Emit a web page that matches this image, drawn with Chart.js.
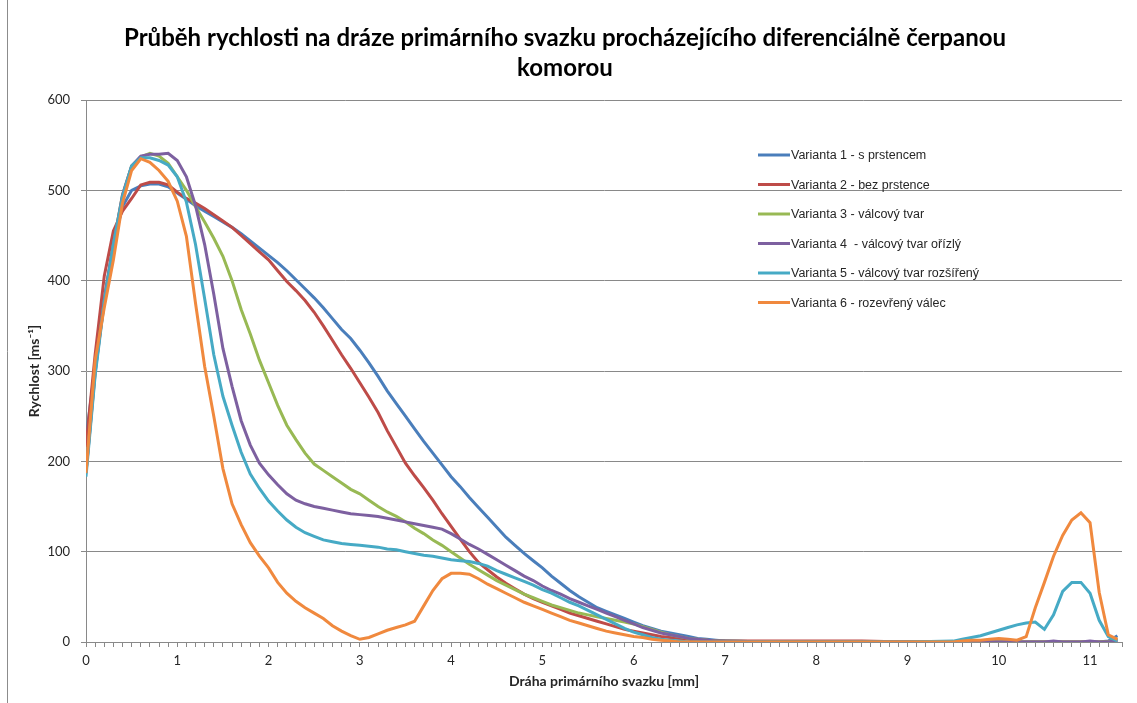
<!DOCTYPE html>
<html>
<head>
<meta charset="utf-8">
<script src="https://cdn.jsdelivr.net/npm/chart.js@4.4.1/dist/chart.umd.min.js"></script>
<style>
  html, body { margin: 0; padding: 0; background: #fff; }
  #wrap { position: relative; width: 1137px; height: 703px; }
</style>
</head>
<body>
<div id="wrap"><canvas id="chart" width="1137" height="703"></canvas></div>
<script>
// dráha [mm]
const distance = [
  0, 0.1, 0.2, 0.3, 0.4, 0.5, 0.6, 0.7, 0.8, 0.9,
  1, 1.1, 1.2, 1.3, 1.4, 1.5, 1.6, 1.7, 1.8, 1.9,
  2, 2.1, 2.2, 2.3, 2.4, 2.5, 2.6, 2.7, 2.8, 2.9,
  3, 3.1, 3.2, 3.3, 3.4, 3.5, 3.6, 3.7, 3.8, 3.9,
  4, 4.1, 4.2, 4.3, 4.4, 4.5, 4.6, 4.7, 4.8, 4.9,
  5, 5.1, 5.2, 5.3, 5.4, 5.5, 5.6, 5.7, 5.8, 5.9,
  6, 6.1, 6.2, 6.3, 6.4, 6.5, 6.6, 6.7, 6.8, 6.9,
  7,
  7.5, 8, 8.5, 9,
  9.5, 9.6, 9.7, 9.8, 9.9, 10, 10.1, 10.2, 10.3, 10.4,
  10.5, 10.6, 10.7, 10.8, 10.9, 11, 11.1, 11.2, 11.3
];

// rychlost [m/s]
const variant1 = [
  225, 305, 380, 440, 482, 500, 505, 507, 507, 504,
  497, 490, 483, 477, 471, 465, 459, 452, 444, 436,
  428, 420, 411, 401, 391, 381, 370, 358, 346, 336,
  323, 309, 294, 278, 264, 250, 236, 222, 209, 196,
  183, 172, 160, 149, 138, 127, 116, 107, 98, 90,
  82, 73, 65, 57, 50, 44, 38, 34, 30, 26,
  22, 18, 15, 12, 10, 8, 6, 4, 3, 2,
  1,
  0, 0, 0, 0,
  0, 0, 0, 0, 0, 0, 0, 0, 0, 0,
  0, 0, 0, 0, 0, 0, 0, 1, 7
];
const variant2 = [
  216, 318, 405, 455, 477, 491, 506, 509, 509, 506,
  498, 491, 486, 480, 473, 466, 459, 450, 441, 432,
  423, 411, 399, 389, 378, 365, 350, 334, 318, 303,
  287, 271, 254, 234, 216, 198, 184, 171, 157, 142,
  128, 114, 100, 88, 80, 72, 65, 59, 53, 48,
  44, 40, 36, 32, 29, 26, 23, 20, 17, 14,
  12, 10, 8, 6, 5, 4, 3, 2, 2, 1,
  1,
  1, 1, 1, 0,
  0, 0, 0, 0, 0, 0, 0, 0, 0, 0,
  0, 0, 0, 0, 0, 0, 0, 0, 0
];
const variant3 = [
  188, 300, 378, 440, 495, 527, 537, 541, 538, 530,
  515, 500, 482, 465, 447, 427, 400, 368, 341, 312,
  287, 262, 240, 224, 209, 197, 190, 183, 176, 169,
  164, 157, 150, 144, 139, 133, 126, 120, 113, 107,
  100, 93, 86, 80, 74, 68, 63, 58, 53, 49,
  45, 41, 38, 35, 32, 30, 28, 26, 24, 22,
  20, 17, 14, 11, 8, 6, 4, 3, 2, 1,
  1,
  0, 0, 0, 0,
  0, 0, 0, 0, 0, 0, 0, 0, 0, 0,
  0, 0, 0, 0, 0, 0, 0, 0, 4
];
const variant4 = [
  187, 298, 378, 440, 495, 527, 538, 540, 540, 541,
  533, 515, 483, 440, 385, 325, 283, 245, 218, 198,
  185, 174, 164, 157, 153, 150, 148, 146, 144, 142,
  141, 140, 139, 137, 135, 133, 131, 129, 127, 125,
  120, 114, 108, 103, 97, 91, 85, 79, 73, 68,
  62, 57, 53, 48, 44, 40, 36, 32, 28, 24,
  20, 16, 13, 10, 8, 6, 4, 3, 2, 1,
  1,
  0, 0, 0, 0,
  0, 0, 0, 0, 0, 0, 0, 0, 0, 0,
  0, 1, 0, 0, 0, 1, 0, 0, 2
];
const variant5 = [
  183, 295, 376, 440, 493, 527, 536, 536, 533, 528,
  515, 487, 440, 380, 318, 272, 240, 210, 186, 170,
  156, 145, 135, 127, 121, 117, 113, 111, 109, 108,
  107, 106, 105, 103, 102, 100, 98, 96, 95, 93,
  91, 90, 89, 87, 84, 79, 75, 71, 67, 63,
  58, 54, 49, 44, 40, 35, 30, 25, 20, 15,
  11, 8, 5, 3, 2, 1, 0, 0, 0, 0,
  0,
  0, 0, 0, 0,
  1, 3, 5, 7, 10, 13, 16, 19, 21, 22,
  14, 30, 56, 66, 66, 54, 24, 6, 1
];
const variant6 = [
  187, 312, 370, 423, 486, 522, 535, 531, 522, 510,
  488, 449, 375, 305, 250, 192, 153, 130, 110, 95,
  82, 66, 54, 45, 38, 32, 26, 18, 12, 7,
  3, 5, 9, 13, 16, 19, 23, 40, 57, 70,
  76, 76, 75, 70, 64, 59, 54, 49, 44, 40,
  36, 32, 28, 24, 21, 18, 15, 12, 10, 8,
  6, 5, 3, 2, 1, 0, 0, 0, 0, 0,
  0,
  0, 0, 0, 0,
  0, 1, 2, 2, 3, 4, 3, 2, 6, 38,
  66, 95, 118, 135, 143, 132, 55, 8, 3
];

const seriesNames = [
  "Varianta 1 - s prstencem",
  "Varianta 2 - bez prstence",
  "Varianta 3 - válcový tvar",
  "Varianta 4  - válcový tvar ořízlý",
  "Varianta 5 - válcový tvar rozšířený",
  "Varianta 6 - rozevřený válec"
];
const seriesValues = [variant1, variant2, variant3, variant4, variant5, variant6];
const seriesColors = ["#4a7ebb", "#be4b48", "#98b954", "#7d60a0", "#46aac5", "#f0893e"];

const titleLines = [
  "Průběh rychlosti na dráze primárního svazku procházejícího diferenciálně čerpanou",
  "komorou"
];
const xTitle = "Dráha primárního svazku [mm]";
const yTitle = "Rychlost [ms⁻¹]";

const gridGray = "#898989";
const textColor = "#262626";

// legenda uvnitř grafu, vpravo nahoře
const insideLegend = {
  id: "insideLegend",
  afterDatasetsDraw(chart) {
    const ctx = chart.ctx;
    ctx.save();
    ctx.font = "12.5px 'Liberation Sans'";
    ctx.textBaseline = "middle";
    chart.data.datasets.forEach((ds, i) => {
      const y = 155 + i * 29.5;
      ctx.strokeStyle = ds.borderColor;
      ctx.lineWidth = 3;
      ctx.beginPath();
      ctx.moveTo(758, y);
      ctx.lineTo(790, y);
      ctx.stroke();
      ctx.fillStyle = textColor;
      ctx.fillText(ds.label, 791, y + 1);
    });
    ctx.restore();
  }
};

// levý okraj rámečku grafu
const frameEdge = {
  id: "frameEdge",
  beforeDraw(chart) {
    const ctx = chart.ctx;
    ctx.save();
    ctx.fillStyle = "#fff";
    ctx.fillRect(0, 0, chart.width, chart.height);
    ctx.strokeStyle = "#8c8c8c";
    ctx.lineWidth = 1;
    ctx.beginPath();
    ctx.moveTo(7.5, 0);
    ctx.lineTo(7.5, chart.height);
    ctx.stroke();
    ctx.restore();
  }
};

const datasets = seriesValues.map((vals, i) => ({
  label: seriesNames[i],
  data: distance.map((x, j) => ({ x: x, y: vals[j] })),
  borderColor: seriesColors[i],
  backgroundColor: seriesColors[i],
  borderWidth: 3,
  pointRadius: 0,
  showLine: true,
  tension: 0,
  order: seriesValues.length - 1 - i
}));

new Chart(document.getElementById("chart").getContext("2d"), {
  type: "scatter",
  data: { datasets: datasets },
  plugins: [frameEdge, insideLegend],
  options: {
    responsive: false,
    animation: false,
    devicePixelRatio: 1,
    layout: { padding: { left: 8, right: 15, top: 0, bottom: 0 } },
    plugins: {
      legend: { display: false },
      tooltip: { enabled: false },
      title: {
        display: true,
        text: titleLines,
        color: "#000",
        font: { family: "Lato", size: 24, weight: "bold", lineHeight: 1.25 },
        padding: { top: 23, bottom: 17 }
      }
    },
    scales: {
      x: {
        type: "linear",
        min: 0,
        max: 11.35,
        afterFit(scale) { scale.height = 61; },
        border: { color: gridGray, width: 1 },
        grid: { drawOnChartArea: false, drawTicks: true, tickLength: 5, color: gridGray },
        ticks: {
          stepSize: 0.1,
          autoSkip: false,
          maxRotation: 0,
          padding: 6,
          color: textColor,
          font: { family: "Lato", size: 13 },
          callback: (v) => Math.abs(v - Math.round(v)) < 1e-6 ? String(Math.round(v)) : ""
        },
        title: {
          display: true,
          text: xTitle,
          color: textColor,
          font: { family: "Lato", size: 14, weight: "bold" },
          padding: { top: 0, bottom: 13 }
        }
      },
      y: {
        min: 0,
        max: 600,
        afterFit(scale) { scale.width = 78; },
        border: { color: gridGray, width: 1 },
        grid: { color: gridGray, tickLength: 5 },
        ticks: {
          stepSize: 100,
          padding: 11,
          color: textColor,
          font: { family: "Lato", size: 13 }
        },
        title: {
          display: true,
          text: yTitle,
          color: textColor,
          font: { family: "Lato", size: 14, weight: "bold" },
          padding: { top: 18, bottom: 0 }
        }
      }
    }
  }
});
</script>
</body>
</html>
